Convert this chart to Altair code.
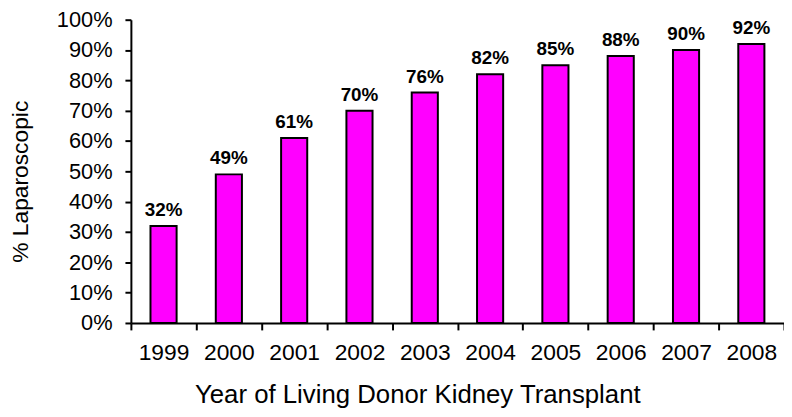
import altair as alt
import pandas as pd

years = ["1999", "2000", "2001", "2002", "2003", "2004", "2005", "2006", "2007", "2008"]
values = [0.32, 0.49, 0.61, 0.70, 0.76, 0.82, 0.85, 0.88, 0.90, 0.92]
labels = ["32%", "49%", "61%", "70%", "76%", "82%", "85%", "88%", "90%", "92%"]
y_ticks = [0.0, 0.1, 0.2, 0.3, 0.4, 0.5, 0.6, 0.7, 0.8, 0.9, 1.0]

df = pd.DataFrame({"year": years, "value": values, "label": labels})

FONT = "Liberation Sans, Arial, Helvetica, sans-serif"

x = alt.X(
    "year:N",
    sort=years,
    scale=alt.Scale(paddingInner=0, paddingOuter=0),
    axis=alt.Axis(
        title="Year of Living Donor Kidney Transplant",
        labelAngle=0,
        tickBand="extent",
        tickSize=7,
        labelPadding=12,
        labelFontSize=23,
        titleFontSize=26,
        titleY=80,
        titleX=289,
        titleBaseline="alphabetic",
        titleAlign="center",
    ),
)
y = alt.Y(
    "value:Q",
    scale=alt.Scale(domain=[0, 1], nice=False),
    axis=alt.Axis(
        title="% Laparoscopic",
        format=".0%",
        values=y_ticks,
        labelOverlap=False,
        tickSize=6,
        labelPadding=13,
        labelFontSize=22,
        titleFontSize=23,
        titleX=-111,
        titleY=163,
        titleAlign="center",
        titleBaseline="middle",
        titleAngle=-90,
    ),
)

bars = alt.Chart(df).mark_bar(
    color="#FF00FF", stroke="black", strokeWidth=2, width=alt.RelativeBandSize(0.4)
).encode(x=x, y=y)

text = alt.Chart(df).mark_text(
    font=FONT, fontSize=19, fontWeight="bold", baseline="alphabetic", dy=-10, color="black"
).encode(x=x, y=y, text="label:N")

chart = (
    alt.layer(bars, text)
    .properties(
        width=659,
        height=306,
        autosize=alt.AutoSizeParams(type="none"),
        padding={"left": 124, "top": 10, "right": 0, "bottom": 85},
    )
    .configure_view(stroke=None)
    .configure_axis(
        grid=False,
        domainColor="black",
        domainWidth=2,
        tickColor="black",
        tickWidth=2,
        labelFont=FONT,
        labelColor="black",
        titleFont=FONT,
        titleFontWeight="normal",
        titleColor="black",
    )
)

chart.save("out.html", embed_options={"renderer": "svg", "actions": False})
